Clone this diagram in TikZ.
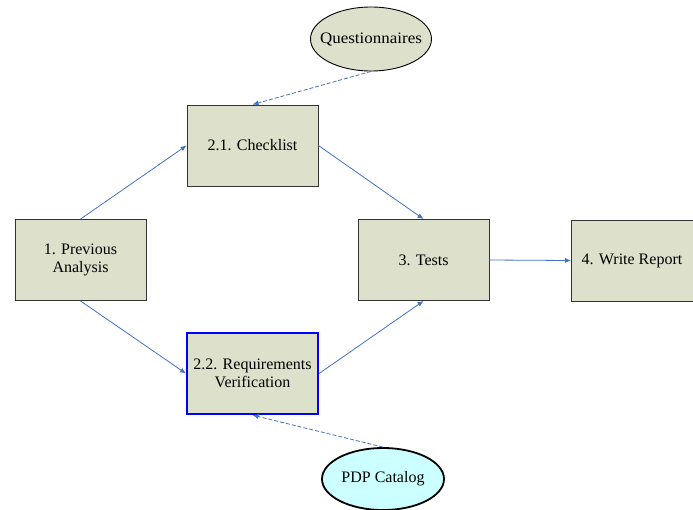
\documentclass[tikz,border=0pt]{standalone}
\usepackage{fontspec}
\setmainfont{Liberation Serif}
\usetikzlibrary{arrows.meta,shapes.geometric}
\definecolor{boxfill}{RGB}{221,224,203}
\definecolor{linkblue}{RGB}{68,114,196}
\definecolor{pdpfill}{RGB}{204,255,255}
\tikzset{
  stepbox/.style={draw=black!80, line width=0.9pt, fill=boxfill, minimum width=131pt, minimum height=81pt, inner sep=0pt, align=center, font=\fontsize{16}{18}\selectfont},
  oval/.style={ellipse, draw=black, line width=0.9pt, fill=boxfill, minimum width=121pt, minimum height=64pt, inner sep=0pt, font=\fontsize{16}{18}\selectfont},
  link/.style={draw=linkblue, line width=0.8pt, -{Latex[length=6pt,width=5pt]}},
  dlink/.style={link, dashed, dash pattern=on 4pt off 2pt}
}
\begin{document}
\begin{tikzpicture}[x=1pt,y=-1pt]
\useasboundingbox (0,0) rectangle (693,509);
\begin{scope}
\clip (0,0) rectangle (693,509);
\node[oval] (q) at (371,39) {\makebox[0pt]{\scalebox{1.06}[1]{Questionnaires}}};
\node[stepbox] (cl) at (252.5,145.5) {2.1. Checklist};
\node[stepbox] (pa) at (80.5,260) {1. Previous\\Analysis};
\node[stepbox] (t) at (423.5,260) {3. Tests};
\node[stepbox, anchor=west] (wr) at (571,260.5) {\hspace*{-10pt}4. Write Report};
\node[stepbox, draw={rgb,255:red,0;green,0;blue,255}, line width=2.2pt] (rv) at (252.5,373.5) {2.2. Requirements\\Verification};
\node[oval, fill=pdpfill, line width=1.8pt, minimum width=122pt, minimum height=62pt] (pdp) at (383,479) {\makebox[0pt]{PDP Catalog}};
\draw[link] (pa.north) -- (cl.west);
\draw[link] (pa.south) -- (rv.west);
\draw[link] (cl.east) -- (t.north);
\draw[link] (rv.east) -- (t.south);
\draw[link] (t.east) -- (wr.west);
\draw[dlink] (q.south) -- (cl.north);
\draw[dlink] (pdp.north) -- (rv.south);
\end{scope}
\end{tikzpicture}
\end{document}
